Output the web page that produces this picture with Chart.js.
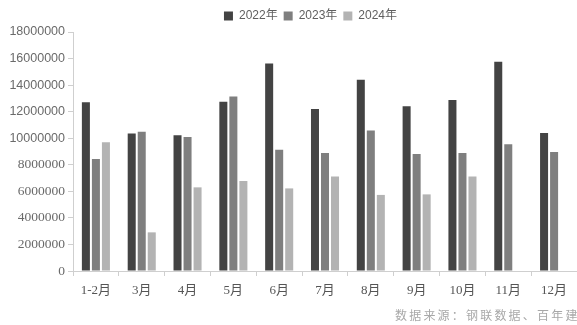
<!DOCTYPE html>
<html>
<head>
<meta charset="utf-8">
<script src="https://cdn.jsdelivr.net/npm/chart.js@4/dist/chart.umd.min.js"></script>
<style>
  html, body { margin: 0; padding: 0; background: #fff; }
  #wrap { width: 577px; height: 325px; }
</style>
</head>
<body>
<div id="wrap"><canvas id="chart"></canvas></div>
<script>
// monthly volumes, 1-2月 combined
const months = ["1-2月", "3月", "4月", "5月", "6月", "7月", "8月", "9月", "10月", "11月", "12月"];
const y2022 = [12700000, 10360000, 10230000, 12750000, 15630000, 12200000, 14410000, 12400000, 12870000, 15760000, 10400000];
const y2023 = [8430000, 10480000, 10100000, 13140000, 9130000, 8890000, 10580000, 8810000, 8890000, 9540000, 8960000];
const y2024 = [9690000, 2910000, 6300000, 6770000, 6220000, 7120000, 5730000, 5770000, 7120000, null, null];
const seriesNames = ["2022年", "2023年", "2024年"];
const seriesColors = ["#434343", "#7f7f7f", "#b3b3b3"];
const sourceNote = "数据来源：钢联数据、百年建";

const serif = "'Liberation Serif', 'Noto Sans CJK SC', serif";
const sans = "'Liberation Sans', 'Noto Sans CJK SC', sans-serif";

// footnote in the bottom right corner, legend nudged right
const notePlugin = {
  id: "note",
  afterLayout(chart) {
    chart.legend.left += 22;
    chart.legend.right += 22;
  },
  afterDraw(chart) {
    const ctx = chart.ctx;
    ctx.save();
    ctx.font = "12px 'Noto Sans CJK SC', serif";
    ctx.fillStyle = "#a8a8a8";
    ctx.letterSpacing = "2.2px";
    ctx.textBaseline = "middle";
    ctx.textAlign = "left";
    ctx.fillText(sourceNote, 395, 315);
    ctx.restore();
  }
};

const datasets = [y2022, y2023, y2024].map((d, i) => ({
  label: seriesNames[i],
  data: d,
  backgroundColor: seriesColors[i],
  categoryPercentage: 0.656,
  barPercentage: 0.8
}));

new Chart(document.getElementById("chart"), {
  type: "bar",
  data: { labels: months, datasets },
  plugins: [notePlugin],
  options: {
    responsive: true,
    maintainAspectRatio: false,
    animation: false,
    layout: { padding: { left: 0, right: 0, top: 4, bottom: 0 } },
    plugins: {
      tooltip: { enabled: false },
      legend: {
        display: true,
        position: "top",
        labels: {
          boxWidth: 9,
          boxHeight: 9,
          padding: 6,
          color: "#5f5f5f",
          font: { family: sans, size: 12 }
        }
      }
    },
    scales: {
      x: {
        grid: { display: true, drawOnChartArea: false, offset: true, tickLength: 5, color: "#cfcfcf" },
        border: { color: "#cfcfcf" },
        ticks: { color: "#555", padding: 7, font: { family: serif, size: 13 } },
        afterFit(scale) { scale.height = 54; }
      },
      y: {
        min: 0,
        max: 18000000,
        grid: { display: true, drawOnChartArea: false, tickLength: 5, color: "#cfcfcf" },
        border: { color: "#cfcfcf" },
        ticks: {
          stepSize: 2000000,
          color: "#6a6a6a",
          padding: 3,
          font: (c) => (c.tick && c.tick.value >= 10000000)
            ? { family: sans, size: 12.5 }
            : { family: serif, size: 13.5 },
          callback: (v) => String(v)
        },
        afterFit(scale) { scale.width = 73; }
      }
    }
  }
});
</script>
</body>
</html>
